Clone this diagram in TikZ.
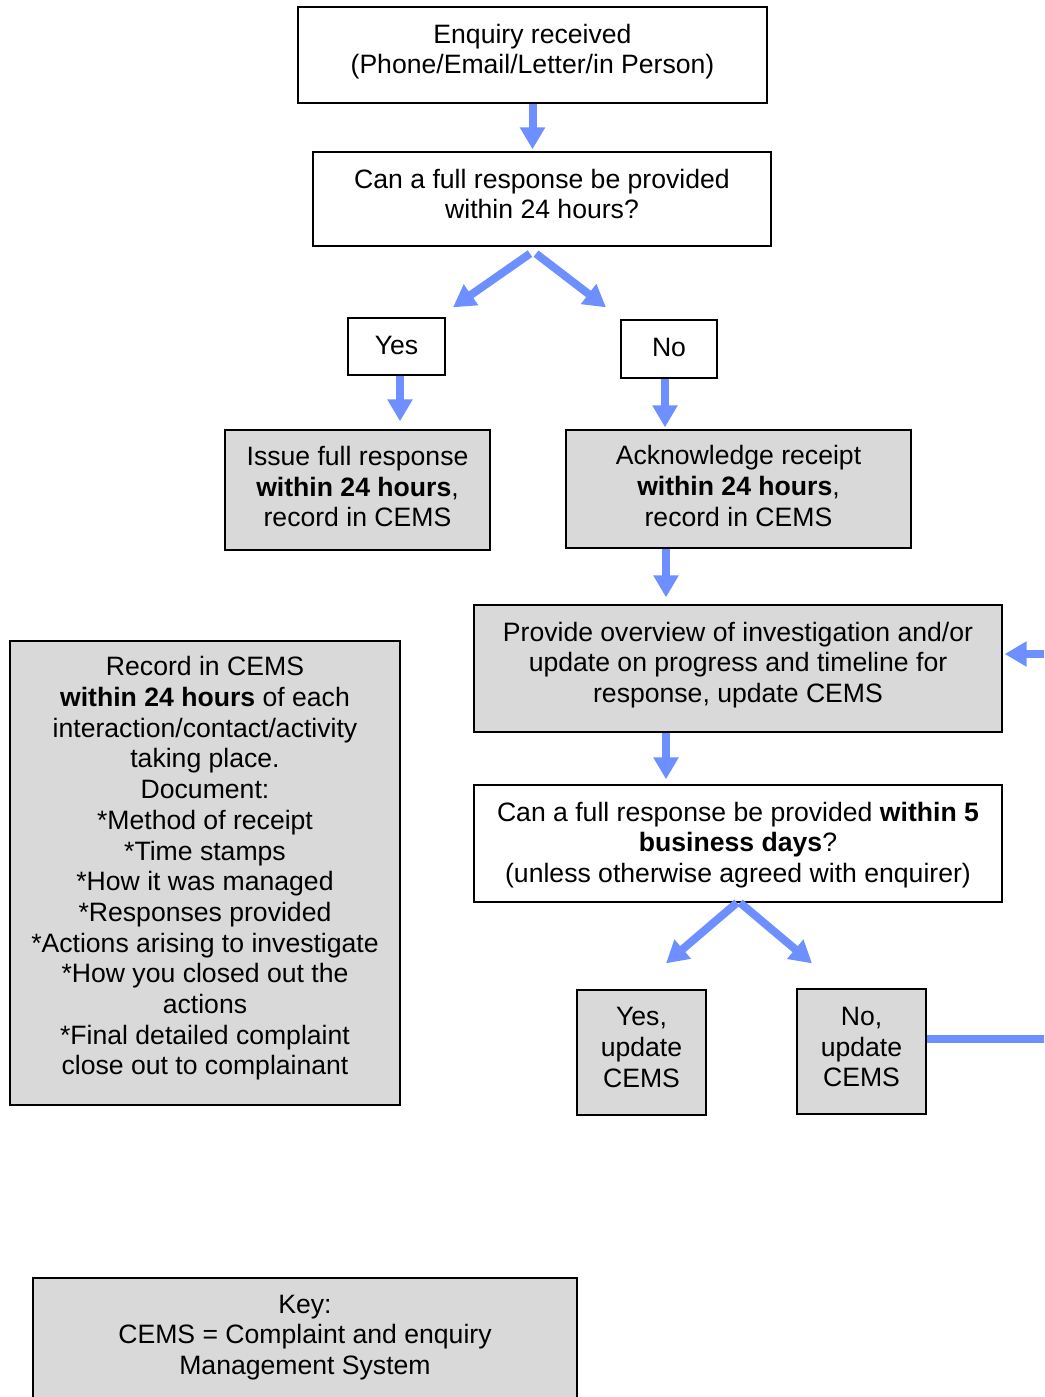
\documentclass[tikz,border=0pt]{standalone}
\usepackage{fontspec}
\setmainfont{Liberation Sans}
\usetikzlibrary{arrows.meta,calc}
\definecolor{boxgray}{RGB}{217,217,217}
\definecolor{arrblue}{RGB}{110,143,255}
\tikzset{
  box/.style={draw=black, line width=1.3pt, fill=white, inner sep=0pt},
  graybox/.style={box, fill=boxgray},
  txt/.style={align=center, inner sep=0pt, font=\fontsize{26.6}{30.7}\selectfont},
  arr/.style={draw=arrblue, line width=8pt, -{Triangle[width=24pt,length=22pt]}},
  bar/.style={draw=arrblue, line width=8pt}
}
\begin{document}
\begin{tikzpicture}[x=1pt,y=-1pt]
\useasboundingbox (0,0) rectangle (1044,1397);
\clip (0,0) rectangle (1044,1397);
% boxes
\node[box, minimum width=469pt, minimum height=96pt] (b1) at (532.5,55) {};
\node[box, minimum width=458pt, minimum height=94pt] (b2) at (542,199) {};
\node[box, minimum width=97pt, minimum height=57pt] (b3) at (396.5,346.5) {};
\node[box, minimum width=96pt, minimum height=58pt] (b4) at (669,349) {};
\node[graybox, minimum width=265pt, minimum height=120pt] (b5) at (357.5,490) {};
\node[graybox, minimum width=345pt, minimum height=118pt] (b6) at (738.5,489) {};
\node[graybox, minimum width=528pt, minimum height=127pt] (b7) at (738,668.5) {};
\node[box, minimum width=528pt, minimum height=117pt] (b8) at (738,843.5) {};
\node[graybox, minimum width=129pt, minimum height=125pt] (b9) at (641.5,1052.5) {};
\node[graybox, minimum width=129pt, minimum height=125pt] (b10) at (861.5,1051.5) {};
\node[graybox, minimum width=390pt, minimum height=464pt] (b11) at (205,873) {};
\node[graybox, minimum width=544pt, minimum height=150pt] (b12) at (305,1353) {};
% texts
\node[txt] (t1) at (532.5,51.5) {Enquiry received\\(Phone/Email/Letter/in Person)};
\node[txt] (t2) at (542,194) {Can a full response be provided\\within 24 hours?};
\node[txt] (t3) at (396.5,345) {Yes};
\node[txt] (t4) at (669,347) {No};
\node[txt] (t5) at (357.5,486.5) {Issue full response\\\textbf{within 24 hours},\\record in CEMS};
\node[txt] (t6) at (738.5,486) {Acknowledge receipt\\\textbf{within 24 hours},\\record in CEMS};
\node[txt] (t7) at (738,665) {Provide overview of investigation and/or\\update on progress and timeline for\\response, update CEMS};
\node[txt] (t8) at (738,845) {Can a full response be provided \textbf{within 5}\\\textbf{business days}?\\(unless otherwise agreed with enquirer)};
\node[txt] (t9) at (641.5,1047.5) {Yes,\\update\\CEMS};
\node[txt] (t10) at (861.5,1047) {No,\\update\\CEMS};
\node[txt] (t11) at (205,868.5) {Record in CEMS\\\textbf{within 24 hours} of each\\interaction/contact/activity\\taking place.\\Document:\\*Method of receipt\\*Time stamps\\*How it was managed\\*Responses provided\\*Actions arising to investigate\\*How you closed out the\\actions\\*Final detailed complaint\\close out to complainant};
\node[txt] (t12) at (305,1337.5) {Key:\\CEMS = Complaint and enquiry\\Management System};
% connectors
\draw[arr, shorten >=2pt] (b1.south) -- (b1.south |- b2.north);
\draw[arr] ([shift={(-12,7)}]b2.south) -- ([shift={(56.5,-10)}]b3.north);
\draw[arr] ([shift={(-6,7)}]b2.south) -- ([shift={(-63,-12)}]b4.north);
\draw[arr, shorten >=8pt] ([shift={(3.5,0)}]b3.south) -- ([shift={(3.5,0)}]b3.south |- b5.north);
\draw[arr, shorten >=2pt] ([shift={(-4,0)}]b4.south) -- ([shift={(-4,0)}]b4.south |- b6.north);
\draw[arr, shorten >=7pt] ([shift={(-72.5,0)}]b6.south) -- ([shift={(-72.5,0)}]b6.south |- b7.north);
\draw[arr, shorten >=5pt] ([shift={(-72,0)}]b7.south) -- ([shift={(-72,0)}]b7.south |- b8.north);
\draw[arr] ([shift={(-1,0)}]b8.south) -- ([shift={(24.5,-26)}]b9.north);
\draw[arr] ([shift={(2,0)}]b8.south) -- ([shift={(-49.5,-25)}]b10.north);
\draw[bar] ([shift={(0,-13)}]b10.east) -- ++(160,0) coordinate (loopc);
\draw[arr, shorten >=2pt] (loopc) |- ([shift={(0,-14.5)}]b7.east);
\end{tikzpicture}
\end{document}
